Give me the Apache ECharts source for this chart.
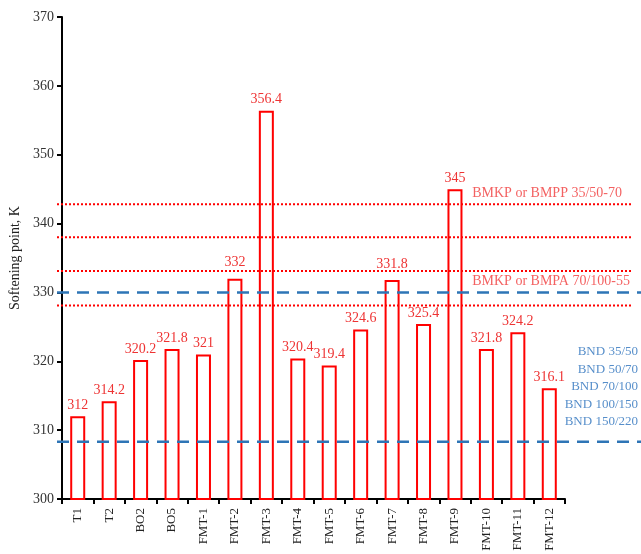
<!DOCTYPE html>
<html>
<head>
<meta charset="utf-8">
<script src="https://cdn.jsdelivr.net/npm/echarts@6/dist/echarts.min.js"></script>
<style>
  html, body { margin: 0; padding: 0; background: #fff; }
  #chart { width: 641px; height: 554px; }
</style>
</head>
<body>
<div id="chart"></div>
<script>
// Samples and their softening points (K)
const categories = ['T1', 'T2', 'BO2', 'BO5', 'FMT-1', 'FMT-2', 'FMT-3', 'FMT-4',
  'FMT-5', 'FMT-6', 'FMT-7', 'FMT-8', 'FMT-9', 'FMT-10', 'FMT-11', 'FMT-12'];
const softeningPoint = [312, 314.2, 320.2, 321.8, 321, 332, 356.4, 320.4,
  319.4, 324.6, 331.8, 325.4, 345, 321.8, 324.2, 316.1];

// Specification limits
const bmkpLimits = [342.8, 338.0, 333.1, 328.1];   // red dotted
const bndLimits = [330.0, 308.3];                  // blue dashed
const bmkpLabels = ['BMKP or BMPP 35/50-70', 'BMKP or BMPA 70/100-55'];
const bndLabels = ['BND 35/50', 'BND 50/70', 'BND 70/100', 'BND 100/150', 'BND 150/220'];

const yTicks = { min: 300, max: 370, interval: 10 };

// Value labels lifted clear of the dotted limit line just above them
const liftedLabels = ['FMT-2', 'FMT-7'];

const FONT = 'Liberation Serif, Times New Roman, serif';
const RED = '#ff0000';
const BLUE = '#2e75b6';

const chart = echarts.init(document.getElementById('chart'));

const barData = softeningPoint.map((v, i) =>
  liftedLabels.includes(categories[i])
    ? { value: v, label: { distance: 9 } }
    : v
);

// Horizontal limit lines live on a wider overlay grid (x: 0..100)
const redLineSeries = bmkpLimits.map(v => ({
  type: 'line', xAxisIndex: 1, yAxisIndex: 1, z: 5,
  data: [[0, v], [98.6, v]], symbol: 'none', silent: true,
  lineStyle: { color: RED, width: 2, type: [2, 2] }
}));
const blueLineSeries = bndLimits.map(v => ({
  type: 'line', xAxisIndex: 1, yAxisIndex: 1, z: 6,
  data: [[0, v], [100, v]], symbol: 'none', silent: true,
  lineStyle: { color: BLUE, width: 2.5, type: [12, 8] }
}));

const labelSeries = {
  type: 'scatter', xAxisIndex: 1, yAxisIndex: 1, symbolSize: 0, silent: true,
  data: [
    { value: [71.1, bmkpLimits[0]], name: bmkpLabels[0],
      label: { position: 'right', distance: 0, offset: [0, -11], color: '#f03a3a', fontSize: 14 } },
    { value: [71.1, 330.0], name: bmkpLabels[1],
      label: { position: 'right', distance: 0, offset: [0, -11], color: '#f03a3a', fontSize: 14 } },
    { value: [100, 316.3], name: bndLabels.join('\n'),
      label: { position: 'left', distance: 3, align: 'right', lineHeight: 17.6, color: '#2c72bd' } }
  ],
  label: {
    show: true, formatter: p => p.name,
    fontFamily: FONT, fontSize: 13
  }
};

chart.setOption({
  animation: false,
  backgroundColor: '#fff',
  grid: [
    { left: 57, right: 76, top: 17, bottom: 55 },
    { left: 57, right: 0, top: 17, bottom: 55 }
  ],
  xAxis: [
    {
      type: 'category', gridIndex: 0, data: categories,
      axisLine: { lineStyle: { color: '#000', width: 2 } },
      axisTick: { show: true, length: 5, lineStyle: { color: '#000', width: 2 } },
      axisLabel: { rotate: 90, color: '#222', fontFamily: FONT, fontSize: 13, margin: 9 }
    },
    { type: 'value', gridIndex: 1, min: 0, max: 100, show: false }
  ],
  yAxis: [
    {
      type: 'value', gridIndex: 0, min: yTicks.min, max: yTicks.max, interval: yTicks.interval,
      name: 'Softening point, K', nameLocation: 'middle', nameGap: 40,
      nameTextStyle: { fontFamily: FONT, fontSize: 14, color: '#222' },
      axisLine: { show: true, lineStyle: { color: '#000', width: 2 } },
      axisTick: { show: true, length: 5, lineStyle: { color: '#000', width: 2 } },
      axisLabel: { color: '#333', fontFamily: FONT, fontSize: 14, margin: 8 },
      splitLine: { show: false }
    },
    { type: 'value', gridIndex: 1, min: yTicks.min, max: yTicks.max, show: false }
  ],
  series: [
    {
      type: 'bar', xAxisIndex: 0, yAxisIndex: 0, z: 3,
      data: barData, barWidth: 15,
      itemStyle: { color: 'rgba(255,255,255,0)', borderColor: RED, borderWidth: 2 },
      label: {
        show: true, position: 'top', distance: 4,
        color: '#ee3333', fontFamily: FONT, fontSize: 14
      }
    },
    ...redLineSeries,
    ...blueLineSeries,
    labelSeries
  ]
});
</script>
</body>
</html>
